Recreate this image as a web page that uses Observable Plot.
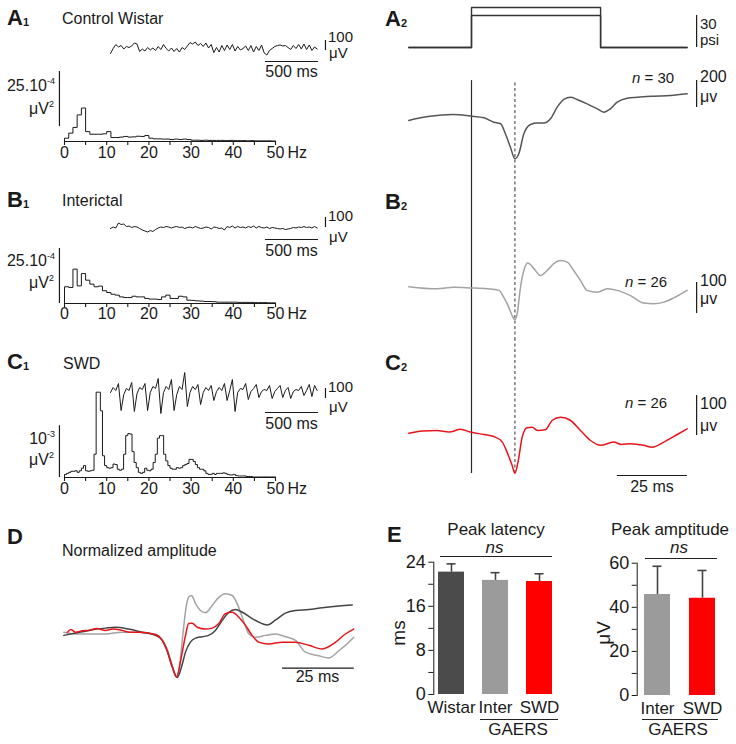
<!DOCTYPE html>
<html><head><meta charset="utf-8">
<script src="https://cdn.jsdelivr.net/npm/d3@7"></script>
<script src="https://cdn.jsdelivr.net/npm/@observablehq/plot@0.6"></script>
<style>
body{margin:0;background:#fff;}
#fig{position:relative;width:736px;height:744px;overflow:hidden;font-family:"Liberation Sans",Arial,Helvetica,sans-serif;color:#1a1a1a;background:#fff;}
.lbl{position:absolute;white-space:nowrap;}
.sub{font-size:11px;line-height:0;position:relative;top:1px;}
.sup{font-size:9px;line-height:0;position:relative;top:-7px;}
.hl{position:absolute;height:0;border-top:1.3px solid #222;}
</style></head><body><div id="fig"></div>
<script>
// ---------------- DATA ----------------
const eegStepMs = 25;
const eegWistar = [-60,-10,30,5,20,-15,10,0,15,45, 35,-40,-15,-35,0,-25,-5,-30,10,-20, 30,-10,-35,-5,-40,-10,-45,0,-20,15, 50,35,55,20,40,10,45,-5,30,-50, 0,-45,20,-30,25,-20,30,-35,10,-25, -10,15,-30,20,-45,10,-30,25,-55,-75, -30,-10,10,20,25,15,20,0,-20,20, -10,30,-15,35,-20,25,-30,5,-15];
const eegInterictal = [-10,5,-5,45,30,35,10,15,0,10, 5,-10,-25,-35,-45,-30,-40,-20,-5,5, 0,10,5,-5,5,10,0,5,-10,0, 5,-5,10,0,-10,-5,5,0,-15,5, 0,-10,-5,-25,10,0,15,-5,10,0, 5,-5,10,0,15,-5,10,0,-5,5, -10,0,-5,-10,-15,-10,-20,-15,-10,0, -5,5,0,10,0,5,-5,10,-5];
const eegSWD = [0,50,20,90,-180,-20,40,20,100,-190, -10,50,30,90,-180,0,60,40,140,-210, 0,60,30,130,-180,-20,60,30,200,-140, 0,60,30,80,-120,0,50,20,70,-80, 10,50,20,90,-80,20,130,-190,0,40, 30,90,-70,10,40,80,-50,10,30,20, 70,-60,10,40,70,-50,20,50,-60,10, 30,20,60,-30,20,80,-40,70,20];

// power spectra, units of 1e-4 uV^2
const specStepWistar = 1, specStepInter = 1, specStepSWD = 0.5;
const specWistar = [1.5,3.8,6.4,12.1,15.2,4.5,3.3,3.3,3.3,3.5, 4.5,1.8,1.8,2.0,2.3,2.0,2.1,2.4,2.3,2.7, 1.5,1.2,1.2,1.1,1.1,0.9,1.1,0.9,1.1,0.9, 0.6,0.6,0.5,0.6,0.5,0.5,0.5,0.5,0.4,0.5, 0.4,0.4,0.4,0.3,0.4,0.3,0.3,0.3,0.3,0.2];
const specInter = [7.6,7.3,15.6,8.0,13.6,10.6,8.8,7.6,7.9,5.8, 5.0,4.2,3.8,3.0,2.7,2.7,3.3,3.0,3.0,2.3, 2.0,2.0,1.8,3.0,3.8,2.3,2.3,3.3,3.0,1.5, 1.4,1.2,1.1,0.9,0.9,0.8,0.6,0.6,0.6,0.6, 0.6,0.5,0.5,0.5,0.5,0.4,0.4,0.4,0.3,0.3];
const specSWD = [0.6,0.8,1.0,1.2,1.2,1.3,1.0,1.3,1.8,2.3, 1.3,1.2,1.3,1.4,4.5,16.5,16.5,12.9,4.2,2.3, 1.9,1.8,1.9,2.6,2.5,1.6,1.4,1.6,4.5,8.1, 8.5,8.4,5.0,2.9,1.9,1.0,0.8,1.0,1.8,1.4, 1.3,1.6,2.9,4.5,7.6,8.1,8.1,4.5,3.2,2.3, 1.8,1.6,1.6,1.9,1.8,1.9,2.3,2.5,2.7,3.5, 3.5,3.1,2.5,1.9,1.6,1.6,1.3,0.8,0.6,0.6, 0.8,0.6,0.8,0.8,0.8,0.9,0.8,0.6,0.5,0.5, 0.6,0.4,0.3,0.3,0.3,0.3,0.2,0.2,0.2,0.1, 0.1,0.1,0.1,0.1,0.1,0.1,0.1,0.1,0.1,0.1];
const freqTicks = [0,5,10,15,20,25,30,35,40,45,50];
const freqLabels = [0,10,20,30,40,50];

// air puff pressure (psi)
const pressureTime = [-22.4, 0, 0, 46.1, 46.1, 77];
const pressureHigh = [0, 0, 37.5, 37.5, 0, 0];
const pressureLow  = [0, 0, 30, 30, 0, 0];

// evoked potentials (ms, uV)
const stimOnset = 0, peakLatencyMark = 15.5;
const evokedTimeA2 = [-22.4,-18.2,-12.3,-6.3,-0.4,4.4,8.0,10.4,12.1,13.9,15.5,16.9,18.7,21.1,23.5,25.8,28.2,30.6,33.0,35.4,37.7,41.3,44.9,47.3,49.6,52.0,55.6,59.2,65.1,71.1,77.0];
const evokedA2 = [-30,-10,7,15,3,-10,-42,-54,-128,-227,-313,-276,-128,-59,-49,-49,-17,69,126,143,126,94,57,32,57,106,136,143,150,155,168];
const evokedTimeB2 = [-22.4,-12.3,-6.3,-0.4,5.6,9.8,11.5,13.3,14.5,15.5,16.3,17.5,18.7,20.1,22.3,24.6,27.0,29.4,31.8,34.2,36.5,38.9,41.3,44.9,48.5,52.0,56.8,61.5,65.1,68.7,72.3,77.0];
const evokedB2 = [6,-1,4,2,-1,-6,-28,-60,-87,-101,-82,4,58,82,64,42,58,80,90,85,58,26,-6,-12,-1,-6,-23,-47,-49,-44,-30,-6];
const evokedTimeC2 = [-22.4,-17.5,-12.3,-8.0,-3.9,-0.4,4.4,8.0,11.0,12.7,14.5,15.5,16.5,18.1,19.8,21.7,23.5,26.4,28.8,31.8,35.4,38.9,42.5,46.1,50.8,53.5,56.8,61.5,64.5,68.7,73.5,77.0];
const evokedC2 = [-2,4,5,1,8,1,-5,-10,-24,-49,-82,-102,-78,-12,12,13,5,7,30,38,30,5,-20,-32,-24,-30,-28,-32,-37,-24,-5,9];

// normalized amplitude (D)
const normTimeWistar = [-24.0,-19.9,-15.3,-9.5,-6.0,-1.4,3.3,7.9,10.3,12.0,13.8,15.5,17.0,18.4,20.1,21.9,24.2,26.5,28.8,31.2,33.5,35.8,38.2,41.6,45.1,46.9,49.8,53.2,56.7,61.4,66.0,71.8,76.5];
const normWistar = [-0.07,-0.02,0.04,0.09,0.11,0.07,0.0,-0.07,-0.18,-0.41,-0.77,-1.0,-0.77,-0.44,-0.22,-0.13,-0.10,-0.07,0.04,0.26,0.44,0.50,0.44,0.30,0.19,0.16,0.27,0.42,0.48,0.50,0.54,0.58,0.60];
const normTimeInter = [-24.0,-19.9,-15.3,-9.5,-3.7,2.1,7.9,10.3,12.0,13.8,15.2,16.3,17.5,18.6,19.5,20.5,21.9,23.6,25.4,27.7,30.0,32.3,34.7,36.4,38.2,40.5,42.8,46.3,49.8,53.2,56.7,60.2,64.8,68.3,71.8,75.3,77.0];
const normInter = [0.0,-0.04,-0.04,-0.04,0.0,0.0,-0.05,-0.17,-0.37,-0.74,-0.99,-0.77,-0.04,0.55,0.77,0.81,0.63,0.48,0.43,0.59,0.77,0.85,0.81,0.63,0.33,-0.04,-0.11,-0.07,-0.04,-0.10,-0.18,-0.44,-0.52,-0.57,-0.41,-0.22,-0.11];
const normTimeSWD = [-22.8,-21.5,-19.9,-17.5,-15.3,-12.5,-9.5,-7.0,-3.7,-1.0,2.1,7.9,10.3,12.0,13.8,15.3,16.7,18.4,19.5,20.7,22.5,25.4,27.7,30.0,32.3,34.7,37.0,39.3,41.6,43.9,47.4,52.1,56.7,61.4,66.0,70.7,74.1,77.0];
const normSWD = [0.0,0.06,0.0,0.03,0.04,0.08,0.04,0.07,0.04,0.0,0.0,-0.05,-0.18,-0.41,-0.77,-0.99,-0.63,-0.07,0.19,0.20,0.11,0.07,0.09,0.19,0.41,0.44,0.33,0.15,-0.07,-0.22,-0.26,-0.22,-0.22,-0.29,-0.37,-0.22,-0.04,0.07];

// E bar charts
const latencyGroups = ["Wistar", "Inter", "SWD"];
const latencyMean = [22.2, 20.7, 20.5];
const latencyErr = [1.5, 1.4, 1.4];
const latencyTicks = [0,4,8,12,16,20,24];
const latencyTickLabels = [0,8,16,24];
const amplitudeGroups = ["Inter", "SWD"];
const amplitudeMean = [45.8, 44.1];
const amplitudeErr = [12.8, 12.6];
const amplitudeTicks = [0,10,20,30,40,50,60];
const amplitudeTickLabels = [0,20,40,60];
const groupColors = {Wistar: "#4b4b4b", Inter: "#9b9b9b", SWD: "#ff0000"};

// ---------------- HELPERS ----------------
const FONT = '"Liberation Sans", Arial, Helvetica, sans-serif';
const fig = document.getElementById("fig");
const INK = "#1a1a1a";

function mount(svg, left, top) {
  Object.assign(svg.style, {position: "absolute", left: left + "px", top: top + "px", maxWidth: "none", overflow: "visible", background: "transparent"});
  fig.appendChild(svg);
}
function panel(box, xs, ys, marksFn) {
  const xd = [(box.left - xs.o) / xs.k, (box.left + box.w - xs.o) / xs.k];
  const yd = [(ys.o - (box.top + box.h)) / ys.k, (ys.o - box.top) / ys.k];
  const svg = Plot.plot({
    width: box.w, height: box.h, margin: 0,
    x: {domain: xd, range: [0, box.w], axis: null},
    y: {domain: yd, range: [box.h, 0], axis: null},
    style: {background: "transparent", overflow: "visible", fontFamily: FONT, fontSize: "16px", color: INK},
    marks: marksFn(xd, yd)
  });
  mount(svg, box.left, box.top);
}
function label(html, x, base, size, o = {}) {
  const d = document.createElement("div");
  d.className = "lbl";
  d.innerHTML = html;
  d.style.fontSize = size + "px";
  d.style.lineHeight = size + "px";
  d.style.left = x + "px";
  d.style.top = (base - 0.846 * size) + "px";
  if (o.weight) d.style.fontWeight = o.weight;
  if (o.italic) d.style.fontStyle = "italic";
  const tx = o.anchor === "middle" ? "-50%" : o.anchor === "end" ? "-100%" : "0";
  d.style.transform = `translateX(${tx})`;
  if (o.rotate) { d.style.transform = "translate(-50%,-50%) rotate(-90deg)"; d.style.top = base + "px"; }
  fig.appendChild(d);
}
function hline(x1, x2, y) {
  const d = document.createElement("div");
  d.className = "hl";
  Object.assign(d.style, {left: x1 + "px", top: y + "px", width: (x2 - x1) + "px"});
  fig.appendChild(d);
}
const rule = {stroke: INK, strokeWidth: 1.2};

// ---------------- A1/B1/C1 EEG traces ----------------
const eegX = {o: 110, k: 53 / 500};
function eegMarks(values, bar, tbar) {
  return () => [
    Plot.line(values, {x: (d, i) => i * eegStepMs, y: d => d, stroke: INK, strokeWidth: 1}),
    Plot.ruleX([bar.t], {y1: bar.y0, y2: bar.y0 + bar.len, ...rule}),
    Plot.ruleY([tbar.y], {x1: tbar.t0, x2: tbar.t0 + tbar.len, ...rule})
  ];
}
panel({left: 100, top: 25, w: 265, h: 60}, eegX, {o: 47, k: 0.1},
  eegMarks(eegWistar, {t: 2028, y0: -30, len: 100}, {y: -140, t0: 1462, len: 500}));
panel({left: 100, top: 200, w: 265, h: 60}, eegX, {o: 227, k: 0.1},
  eegMarks(eegInterictal, {t: 2028, y0: 0, len: 100}, {y: -120, t0: 1462, len: 500}));
panel({left: 100, top: 360, w: 265, h: 75}, eegX, {o: 392, k: 0.1},
  eegMarks(eegSWD, {t: 2028, y0: -60, len: 100}, {y: -200, t0: 1462, len: 500}));

// ---------------- spectra ----------------
const specX = {o: 64, k: 211 / 50};
function specMarks(values, step, bar, dy) {
  const pts = [[0, 0], ...values.map((v, i) => [i * step, v]), [values.length * step, values[values.length - 1]]];
  return () => [
    Plot.ruleY([0], {x1: 0, x2: 50, ...rule}),
    Plot.axisX({ticks: freqTicks, tickSize: 4, tickFormat: () => "", label: null, strokeWidth: 1.1}),
    Plot.text(freqLabels, {x: d => d, y: 0, dy, text: d => String(d), fontSize: 16}),
    Plot.text(["Hz"], {x: 50, y: 0, dx: 12, dy, text: d => d, textAnchor: "start", fontSize: 16}),
    Plot.line(pts, {x: d => d[0], y: d => d[1], curve: "step-after", stroke: INK, strokeWidth: 1}),
    Plot.ruleX([bar.f], {y1: bar.y0, y2: bar.y0 + bar.len, ...rule})
  ];
}
panel({left: 0, top: 66, w: 330, h: 75}, specX, {o: 141, k: 2.2},
  specMarks(specWistar, specStepWistar, {f: -1.2, y0: 6.8, len: 25}, 11));
panel({left: 0, top: 240, w: 330, h: 63}, specX, {o: 303, k: 2.2},
  specMarks(specInter, specStepInter, {f: -1.2, y0: 0, len: 25}, 10));
panel({left: 0, top: 385, w: 330, h: 92}, specX, {o: 477, k: 5.17},
  specMarks(specSWD, specStepSWD, {f: -1.2, y0: 0, len: 10}, 11));

// ---------------- A2/B2/C2 ----------------
const evX = {o: 471, k: 2.8};
panel({left: 400, top: 0, w: 336, h: 58}, evX, {o: 47, k: 32 / 30}, () => [
  Plot.line(pressureHigh, {x: (d, i) => pressureTime[i], y: d => d, stroke: "#333", strokeWidth: 1.4}),
  Plot.line(pressureLow, {x: (d, i) => pressureTime[i], y: d => d, stroke: "#333", strokeWidth: 1.4}),
  Plot.ruleX([80.4], {y1: 0, y2: 30, ...rule})
]);
function evokedMarks(times, values, color, bar, top, bottom, extra = []) {
  return (xd, yd) => [
    Plot.ruleX([stimOnset], {y1: bottom ?? yd[0], y2: top ?? yd[1], stroke: "#2a2a2a", strokeWidth: 1.2}),
    Plot.ruleX([peakLatencyMark], {y1: bottom ?? yd[0], y2: top ?? yd[1], stroke: "#555", strokeWidth: 1.2, strokeDasharray: "3,2.5"}),
    Plot.line(values, {x: (d, i) => times[i], y: d => d, stroke: color, strokeWidth: 1.5, curve: "monotone-x"}),
    Plot.ruleX([80.4], {y1: bar.y0, y2: bar.y0 + bar.len, ...rule}),
    ...extra
  ];
}
panel({left: 400, top: 58, w: 336, h: 132}, evX, {o: 116, k: 27 / 200},
  evokedMarks(evokedTimeA2, evokedA2, "#555555", {y0: 66, len: 200}, 266, null));
panel({left: 400, top: 190, w: 336, h: 150}, evX, {o: 288, k: 0.31},
  evokedMarks(evokedTimeB2, evokedB2, "#a3a3a3", {y0: -81, len: 100}, null, null));
panel({left: 400, top: 340, w: 336, h: 160}, evX, {o: 432, k: 0.4},
  evokedMarks(evokedTimeC2, evokedC2, "#e8141b", {y0: -7.5, len: 100}, null, -102.5,
    [Plot.ruleY([-107.5], {x1: 52.1, x2: 77.1, ...rule})]));

// ---------------- D ----------------
panel({left: 50, top: 575, w: 320, h: 120}, {o: 132.2, k: 2.87}, {o: 631.7, k: 45.3}, () => [
  Plot.line(normInter, {x: (d, i) => normTimeInter[i], y: d => d, stroke: "#a3a3a3", strokeWidth: 1.5, curve: "monotone-x"}),
  Plot.line(normWistar, {x: (d, i) => normTimeWistar[i], y: d => d, stroke: "#444", strokeWidth: 1.5, curve: "monotone-x"}),
  Plot.line(normSWD, {x: (d, i) => normTimeSWD[i], y: d => d, stroke: "#e8141b", strokeWidth: 1.5, curve: "monotone-x"}),
  Plot.ruleY([-0.795], {x1: 52.2, x2: 77.2, ...rule})
]);

// ---------------- E ----------------
function barChart(groups, means, errs, ticks, tickLabels, yMax, geo) {
  const data = groups.map((g, i) => ({g, m: means[i], hi: means[i] + errs[i]}));
  const svg = Plot.plot({
    width: geo.w, height: geo.h,
    marginLeft: geo.ml, marginRight: geo.mr, marginTop: geo.mt, marginBottom: geo.mb,
    x: {type: "band", domain: groups, paddingInner: geo.pi, paddingOuter: geo.po, axis: null},
    y: {domain: [0, yMax], ticks, tickFormat: d => tickLabels.includes(d) ? String(d) : "", tickSize: 5, tickPadding: 3, line: true, label: null},
    color: {domain: Object.keys(groupColors), range: Object.values(groupColors)},
    style: {background: "transparent", overflow: "visible", fontFamily: FONT, fontSize: "18px", color: INK},
    marks: [
      Plot.barY(data, {x: "g", y: "m", fill: "g"}),
      Plot.ruleX(data, {x: "g", y1: "m", y2: "hi", stroke: "#444", strokeWidth: 1.6}),
      Plot.tickY(data, {x: "g", y: "hi", stroke: "#444", strokeWidth: 1.6, insetLeft: 8.5, insetRight: 8.5}),
      Plot.text(groups, {x: d => d, y: 0, dy: 13, text: d => d, fontSize: 17})
    ]
  });
  mount(svg, geo.left, geo.top);
}
barChart(latencyGroups, latencyMean, latencyErr, latencyTicks, latencyTickLabels, 24,
  {left: 380, top: 520, w: 190, h: 224, ml: 53.3, mr: 12.3, mt: 41.7, mb: 50, pi: 0.40, po: 0.106});
barChart(amplitudeGroups, amplitudeMean, amplitudeErr, amplitudeTicks, amplitudeTickLabels, 60,
  {left: 580, top: 520, w: 156, h: 224, ml: 56.7, mr: 15, mt: 42.7, mb: 49, pi: 0.429, po: 0.141});

// ---------------- TEXT ----------------
const panelLabel = (L, n, x, base) => label(`${L}${n ? `<span class="sub">${n}</span>` : ""}`, x, base, 22, {weight: 700});
panelLabel("A", "1", 7, 26);
label("Control Wistar", 62, 25, 16);
label("100", 328, 42, 15); label("μV", 329, 58, 15);
label("500 ms", 291.5, 78, 16, {anchor: "middle"});
label('25.10<span class="sup">-4</span>', 55, 92, 16, {anchor: "end"});
label('μV<span class="sup">2</span>', 54, 115, 16, {anchor: "end"});

panelLabel("B", "1", 7, 208);
label("Interictal", 62, 207, 16);
label("100", 328, 221, 15); label("μV", 329, 242, 15);
label("500 ms", 291.5, 257, 16, {anchor: "middle"});
label('25.10<span class="sup">-4</span>', 55, 267, 16, {anchor: "end"});
label('μV<span class="sup">2</span>', 54, 289, 16, {anchor: "end"});

panelLabel("C", "1", 7, 370);
label("SWD", 63, 370, 16);
label("100", 328, 392, 15); label("μV", 329, 412, 15);
label("500 ms", 291.5, 430, 16, {anchor: "middle"});
label('10<span class="sup">-3</span>', 55, 445, 16, {anchor: "end"});
label('μV<span class="sup">2</span>', 54, 466, 16, {anchor: "end"});

panelLabel("A", "2", 385, 27);
label("30", 700, 29, 15); label("psi", 700, 45, 15);
label("<i>n</i> = 30", 632, 83, 15);
label("200", 700, 83, 16); label("μv", 700, 103, 16);

panelLabel("B", "2", 385, 210);
label("<i>n</i> = 26", 625, 287, 15);
label("100", 700, 287, 16); label("μv", 700, 305, 16);

panelLabel("C", "2", 385, 371);
label("<i>n</i> = 26", 625, 408, 15);
label("100", 700, 410, 16); label("μv", 700, 432, 16);
label("25 ms", 652, 493, 16, {anchor: "middle"});

panelLabel("D", "", 7, 545);
label("Normalized amplitude", 62, 557, 16);
label("25 ms", 317.5, 683, 16, {anchor: "middle"});

panelLabel("E", "", 387, 543);
label("Peak latency", 496, 535.5, 17, {anchor: "middle"});
label("ns", 494.5, 553, 17, {anchor: "middle", italic: true});
hline(440, 552, 556);
label("ms", 398, 633, 19, {rotate: true});
hline(480, 558, 719);
label("GAERS", 518, 735, 17, {anchor: "middle"});

label("Peak amptitude", 670, 535.5, 17, {anchor: "middle"});
label("ns", 679, 553, 17, {anchor: "middle", italic: true});
hline(645, 717, 558);
label("μV", 603, 633, 19, {rotate: true});
hline(642, 718, 719);
label("GAERS", 678, 735, 17, {anchor: "middle"});
</script></body></html>
